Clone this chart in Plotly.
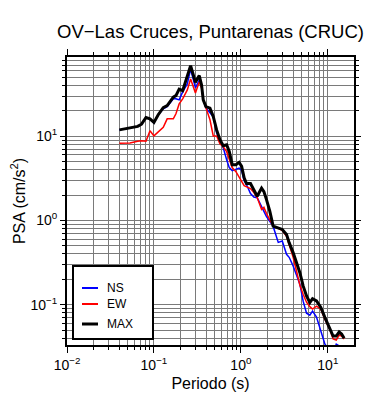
import plotly.graph_objects as go

# ---- data ----
periods = [0.04, 0.053, 0.065, 0.072, 0.081, 0.09, 0.10, 0.112, 0.128, 0.142,
           0.167, 0.179, 0.195, 0.214, 0.242, 0.264, 0.30, 0.332, 0.353, 0.369,
           0.396, 0.441, 0.481, 0.526, 0.574, 0.627, 0.686, 0.735, 0.794, 0.877,
           0.955, 1.02, 1.09, 1.16, 1.29, 1.41, 1.54, 1.73, 1.84, 1.97,
           2.15, 2.35, 2.69, 2.99, 3.35, 3.59, 3.99, 4.37, 4.77, 5.2,
           5.69, 6.21, 6.67, 7.41, 8.31, 9.24, 10.5, 11.5, 12.5, 13.5,
           14.4, 15.4]

psa_max = [11.9, 12.7, 13.1, 13.9, 16.7, 16.1, 14.6, 18.0, 21.9, 23.1,
           29.1, 30.4, 36.2, 34.8, 53.5, 68.9, 43.8, 52.5, 40.7, 27.0,
           22.5, 21.6, 17.2, 11.9, 9.09, 7.72, 7.93, 6.61, 4.60, 4.60,
           4.90, 4.39, 3.20, 2.74, 2.74, 2.33, 1.94, 2.42, 2.20, 1.77,
           1.29, 0.857, 0.804, 0.782, 0.683, 0.545, 0.415, 0.316, 0.240, 0.167,
           0.127, 0.106, 0.118, 0.111, 0.0927, 0.0706, 0.0537, 0.0424, 0.0424, 0.0473,
           0.0448, 0.0398]

psa_ns = [11.9, 12.7, 13.1, 13.9, 16.7, 16.1, 14.4, 18.0, 21.2, 22.4,
          27.8, 27.8, 27.0, 33.6, 41.8, 62.9, 37.5, 46.6, 39.6, 27.0,
          21.7, 19.0, 17.0, 11.0, 8.85, 7.31, 5.27, 4.24, 3.91, 4.01,
          4.18, 3.91, 2.97, 2.67, 2.09, 1.90, 1.86, 1.46, 1.28, 1.11,
          0.973, 0.849, 0.549, 0.569, 0.396, 0.365, 0.288, 0.223, 0.175, 0.110,
          0.0793, 0.0751, 0.0838, 0.0711, 0.0486, 0.0341, 0.0282, 0.0259, 0.0340, 0.0323,
          0.0314, 0.0297]

psa_ew = [8.26, 8.31, 8.73, 8.85, 8.73, 11.6, 10.1, 11.3, 12.8, 16.1,
          16.1, 18.5, 24.2, 27.8, 35.5, 47.9, 32.7, 44.2, 37.5, 27.0,
          21.2, 15.7, 10.1, 10.1, 8.15, 7.51, 6.56, 5.27, 4.24, 3.80,
          3.32, 2.92, 2.59, 2.53, 2.39, 2.14, 1.87, 1.35, 1.43, 1.21,
          1.03, 0.857, 0.804, 0.762, 0.647, 0.520, 0.365, 0.249, 0.170, 0.133,
          0.107, 0.0947, 0.0885, 0.0960, 0.0885, 0.0673, 0.0513, 0.0391, 0.0380, 0.0436,
          0.0424, 0.0391]

x_tickvals = [0.01, 0.1, 1, 10]
x_ticktext = ["10<sup>\u22122</sup>", "10<sup>\u22121</sup>", "10<sup>0</sup>", "10<sup>1</sup>"]
y_tickvals = [0.1, 1, 10]
y_ticktext = ["10<sup>\u22121</sup>", "10<sup>0</sup>", "10<sup>1</sup>"]

series_names = ["NS", "EW", "MAX"]
series_colors = ["#0000ff", "#ff0000", "#000000"]
series_widths = [1.5, 1.5, 3]

FONT = "Liberation Sans, Arial, Helvetica, sans-serif"
GRID = "#7a7a7a"

minor_x = [m * 10.0 ** e for e in (-2, -1, 0, 1) for m in range(2, 10) if m * 10.0 ** e < 20]
minor_y = [m * 10.0 ** e for e in (-2, -1, 0, 1) for m in range(2, 10)
           if 0.0332 < m * 10.0 ** e < 87]

fig = go.Figure()
for name, ys, col, w in zip(series_names, [psa_ns, psa_ew, psa_max], series_colors, series_widths):
    fig.add_trace(go.Scatter(x=periods, y=ys, mode="lines", name=name,
                             line=dict(color=col, width=w), showlegend=False))

axis_common = dict(
    type="log", showline=True, linewidth=2, linecolor="black", mirror="allticks",
    ticks="outside", tickcolor="black", tickwidth=1, automargin=False,
    showgrid=True, gridcolor=GRID, gridwidth=1, zeroline=False,
    tickfont=dict(family=FONT, size=14, color="black"),
    tickmode="array",
)

# page body has an 8px margin: figure occupies (8,8)-(390,400) of the window
W, H = 382, 392
fig.update_layout(
    width=W, height=H,
    margin=dict(l=59, r=36, t=49, b=55),
    plot_bgcolor="white", paper_bgcolor="white",
    font=dict(family=FONT, color="black"),
    title=dict(text="OV\u2212Las Cruces, Puntarenas (CRUC)", x=0.5, xref="paper",
               xanchor="center", y=1 - 24 / H, yanchor="middle",
               font=dict(family=FONT, size=18.5, color="black")),
    xaxis=dict(axis_common, range=[-2, 1.301], tickvals=x_tickvals, ticktext=x_ticktext,
               ticklen=6,
               minor=dict(tickmode="array", tickvals=minor_x, ticks="outside", ticklen=3,
                          tickcolor="black", showgrid=True, gridcolor=GRID, gridwidth=1),
               title=dict(text="Periodo (s)", font=dict(family=FONT, size=16), standoff=6)),
    yaxis=dict(axis_common, range=[-1.479, 1.941], tickvals=y_tickvals, ticktext=y_ticktext,
               ticklen=5,
               minor=dict(tickmode="array", tickvals=minor_y, ticks="outside", ticklen=3,
                          tickcolor="black", showgrid=True, gridcolor=GRID, gridwidth=1),
               title=dict(text="PSA (cm/s<sup>2</sup>)", font=dict(family=FONT, size=16), standoff=8)),
)

# ---- legend box (drawn manually to match the reference) ----
PW, PH = 287.0, 288.0
def px(xp):
    return (xp - 67) / PW
def py(yp):
    return (345 - yp) / PH

fig.add_shape(type="rect", xref="paper", yref="paper",
              x0=px(73), x1=px(153), y0=py(339), y1=py(266),
              line=dict(color="black", width=2), fillcolor="white", layer="above")
legend_rows = [288, 304, 324]
legend_lw = [2, 2, 3]
for name, col, lw, row in zip(series_names, series_colors, legend_lw, legend_rows):
    fig.add_shape(type="line", xref="paper", yref="paper",
                  x0=px(82), x1=px(98), y0=py(row), y1=py(row),
                  line=dict(color=col, width=lw), layer="above")
    fig.add_annotation(text=name, xref="paper", yref="paper", x=px(105), y=py(row),
                       xanchor="left", yanchor="middle", showarrow=False,
                       font=dict(family=FONT, size=12, color="black"))

fig.write_html("out.html")
